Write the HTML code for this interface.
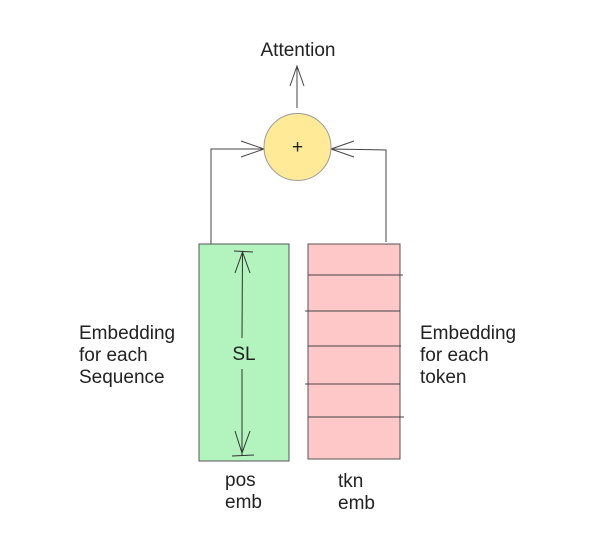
<!DOCTYPE html>
<html>
<head>
<meta charset="utf-8">
<style>
html,body{margin:0;padding:0;background:#fff;}
svg{display:block;}
text{font-family:"Liberation Sans",sans-serif;font-size:19px;fill:#222;}
</style>
</head>
<body>
<svg width="615" height="557" viewBox="0 0 615 557">
  <rect x="0" y="0" width="615" height="557" fill="#fff"/>

  <text x="298" y="56" text-anchor="middle">Attention</text>
  <g stroke="#444" stroke-width="1" fill="none">
    <line x1="297" y1="108" x2="297" y2="66"/>
    <polyline points="290,86 297,66 304,86"/>
  </g>

  <g stroke="#444" stroke-width="1" fill="none">
    <polyline points="211,244 211,149 264,149"/>
    <polyline points="241,141 264,149 241,157"/>
  </g>
  <g stroke="#444" stroke-width="1" fill="none">
    <polyline points="386,242 386,150 331,149"/>
    <polyline points="354,141 331,149 354,157"/>
  </g>

  <circle cx="297.5" cy="147" r="33.5" fill="#ffea98" stroke="#999" stroke-width="1"/>
  <text x="297.5" y="153" text-anchor="middle" font-size="17">+</text>

  <rect x="199" y="244" width="90" height="217" fill="#b3f3be" stroke="#555" stroke-width="1"/>
  <g stroke="#333" stroke-width="1" fill="none">
    <line x1="234" y1="251" x2="253" y2="252"/>
    <line x1="242.5" y1="252" x2="242" y2="338"/>
    <line x1="242" y1="369" x2="242" y2="455"/>
    <line x1="232" y1="456" x2="254" y2="455"/>
    <polyline points="235,273 242.5,252 250,273"/>
    <polyline points="235,431 242,453 250,431"/>
  </g>
  <text x="244" y="360" text-anchor="middle">SL</text>

  <rect x="308" y="244" width="92" height="215" fill="#ffc8c8" stroke="#555" stroke-width="1"/>
  <g stroke="#444" stroke-width="1">
    <line x1="308" y1="275" x2="403" y2="275"/>
    <line x1="305" y1="311" x2="400" y2="311"/>
    <line x1="308" y1="346" x2="401" y2="346"/>
    <line x1="305" y1="384" x2="400" y2="384"/>
    <line x1="308" y1="417" x2="404" y2="417"/>
  </g>

  <g>
    <text x="79" y="339">Embedding</text>
    <text x="79" y="361">for each</text>
    <text x="79" y="383">Sequence</text>
  </g>
  <g>
    <text x="420" y="339">Embedding</text>
    <text x="420" y="361">for each</text>
    <text x="420" y="383">token</text>
  </g>
  <g>
    <text x="225" y="486">pos</text>
    <text x="225" y="508">emb</text>
  </g>
  <g>
    <text x="338" y="487">tkn</text>
    <text x="338" y="509">emb</text>
  </g>
</svg>
</body>
</html>
